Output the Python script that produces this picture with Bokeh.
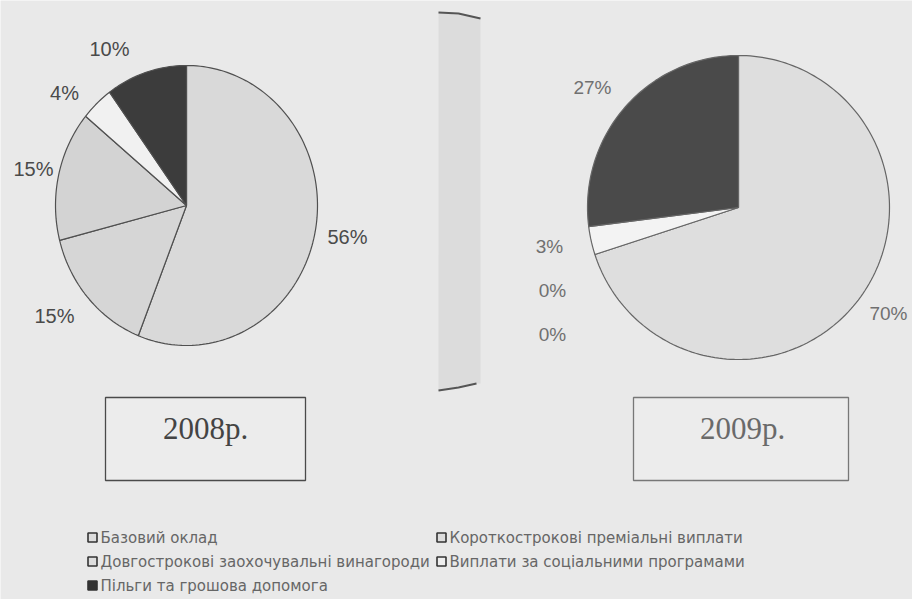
import math
from bokeh.plotting import figure
from bokeh.models import Range1d
from bokeh.core.properties import value
from bokeh.embed import file_html
from bokeh.resources import INLINE

# ---------------- data ----------------
categories = [
    "Базовий оклад",
    "Короткострокові преміальні виплати",
    "Довгострокові заохочувальні винагороди",
    "Виплати за соціальними програмами",
    "Пільги та грошова допомога",
]
share_2008 = [56, 15, 15, 4, 10]
share_2009 = [70, 0, 0, 3, 27]
years = ["2008р.", "2009р."]

# ---------------- layout / style ----------------
W, H = 912, 599
BG = "#e9e9e9"
slice_colors_1 = ["#d9d9d9", "#d6d6d6", "#d3d3d3", "#f1f1f1", "#3c3c3c"]
slice_colors_2 = ["#dedede", "#dadada", "#d6d6d6", "#f3f3f3", "#4a4a4a"]


def Y(py):
    return H - py


p = figure(width=W, height=H, x_range=Range1d(0, W), y_range=Range1d(0, H),
           output_backend="svg", toolbar_location=None, min_border=0)
p.axis.visible = False
p.grid.visible = False
p.outline_line_color = None
p.background_fill_color = BG
p.border_fill_color = BG

# middle scanned strip
p.patch([438, 480, 480, 476, 438], [Y(12), Y(17), Y(383), Y(383), Y(390)],
        fill_color="#dcdcdc", line_color=None)
p.line([438, 458, 480], [Y(12), Y(13), Y(18)], line_color="#555555", line_width=2)
p.line([438, 458, 476], [Y(390), Y(387), Y(383)], line_color="#555555", line_width=2)


def pie(values, cx, cy, rx, ry, colors, line_color):
    total = float(sum(values))
    xs, ys, fc = [], [], []
    cum = 0.0
    for v, c in zip(values, colors):
        if v <= 0:
            continue
        a0 = cum / total * 2 * math.pi
        cum += v
        a1 = cum / total * 2 * math.pi
        n = max(4, int((a1 - a0) / (2 * math.pi) * 240))
        px = [cx]
        py = [Y(cy)]
        for k in range(n + 1):
            t = a0 + (a1 - a0) * k / n
            px.append(cx + rx * math.sin(t))
            py.append(Y(cy) + ry * math.cos(t))
        xs.append(px)
        ys.append(py)
        fc.append(c)
    p.patches(xs, ys, fill_color=fc, line_color=line_color, line_width=1.2)


pie(share_2008, 186, 205, 131, 140, slice_colors_1, "#505050")
pie(share_2009, 738, 207, 151, 152, slice_colors_2, "#666666")

# percentage labels
lab1_pos = [(347, 236), (54, 315), (33, 168), (64, 92), (109, 48)]
lab2_pos = [(888, 313), (552, 334), (552, 290), (549, 246), (592, 87)]
p.text([q[0] for q in lab1_pos], [Y(q[1]) for q in lab1_pos],
       text=[f"{v}%" for v in share_2008], text_align="center",
       text_baseline="middle", text_font=value("Liberation Sans"),
       text_font_size="20px", text_color="#4a4a4a")
p.text([q[0] for q in lab2_pos], [Y(q[1]) for q in lab2_pos],
       text=[f"{v}%" for v in share_2009], text_align="center",
       text_baseline="middle", text_font=value("Liberation Sans"),
       text_font_size="19px", text_color="#707070")

# year boxes
p.quad(left=[105, 633], right=[305, 848], top=[Y(397), Y(397)],
       bottom=[Y(480), Y(480)], fill_color="#ececec",
       line_color=["#4a4a4a", "#777777"], line_width=1.3)
p.text([205, 742], [Y(428), Y(428)], text=years, text_align="center",
       text_baseline="middle", text_font=value("Liberation Serif"),
       text_font_size="31px", text_color=["#444444", "#6a6a6a"])

# legend
leg_x = [92, 441, 92, 441, 92]
leg_y = [537, 537, 561, 561, 585]
leg_fill = ["#dddddd", "#dddddd", "#dddddd", "#eeeeee", "#333333"]
p.scatter([x for x in leg_x], [Y(y) for y in leg_y], marker="square", size=9,
          fill_color=leg_fill, line_color="#333333", line_width=1.6)
p.text([x + 8 for x in leg_x], [Y(y) for y in leg_y], text=categories,
       text_align="left", text_baseline="middle",
       text_font=value("DejaVu Sans"), text_font_size="15px",
       text_color="#666666")

open("out.html", "w").write(file_html(p, INLINE))
